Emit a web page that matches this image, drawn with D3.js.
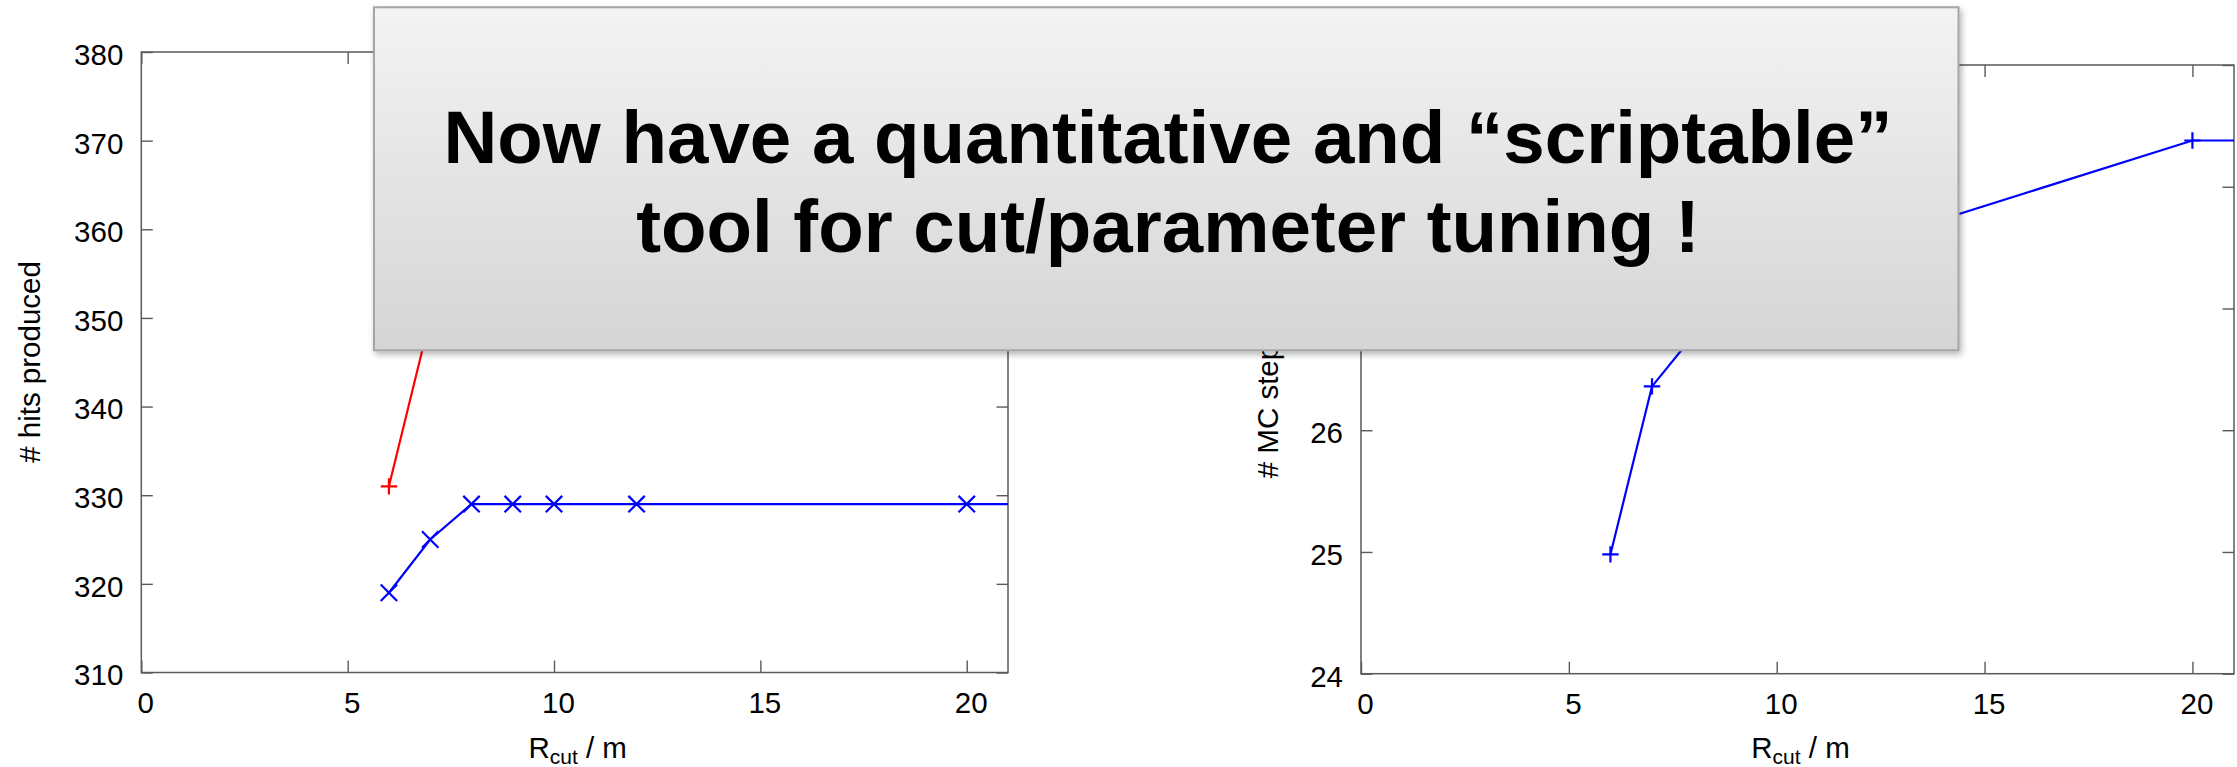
<!DOCTYPE html>
<html>
<head>
<meta charset="utf-8">
<script src="https://cdn.jsdelivr.net/npm/d3@7/dist/d3.min.js"></script>
<style>
  html, body { margin: 0; padding: 0; background: #ffffff; }
  svg { display: block; }
  text { font-family: "Liberation Sans", Arial, Helvetica, sans-serif; fill: #000; }
</style>
</head>
<body>
<svg id="chart" width="2237" height="767"></svg>
<script>
// R_cut values (m) at which the scan was run
const rcut = [6, 7, 8, 9, 10, 12, 20, 25];
// number of hits produced, two configurations
const hitsRed  = [331, 350, 349, 348, 348, 347.5, 347.2, 347.2];
const hitsBlue = [319, 325, 329, 329, 329, 329, 329, 329];
// number of MC steps
const mcSteps  = [24.98, 26.36, 26.78, 27.05, 27.25, 27.52, 28.38, 28.38];

// tick values
const xTicks      = [0, 5, 10, 15, 20];
const hitsTicks   = [310, 320, 330, 340, 350, 360, 370, 380];
const mcTicks     = [24, 25, 26, 27, 28, 29];

const headline = ["Now have a quantitative and \u201Cscriptable\u201D", "tool for cut/parameter tuning !"];

// callout rectangle drawn over the plots
const callout = { x: 374, y: 7.3, w: 1584.5, h: 343 };

const svg = d3.select("#chart");
const defs = svg.append("defs");

const FONT = 29.5;
const FRAME = "#5a5a5a";

// tick labels that sit completely under the callout are not drawn
function underCallout(el) {
  const b = el.getBBox();
  const m = el.getCTM();
  const x0 = b.x * m.a + m.e, y0 = b.y * m.d + m.f;
  const x1 = x0 + b.width * m.a, y1 = y0 + b.height * m.d;
  return x0 >= callout.x && x1 <= callout.x + callout.w &&
         y0 >= callout.y && y1 <= callout.y + callout.h;
}

function panel(opts) {
  const { id, left, right, top, bottom, yDomain, yTicks, ylabel, ylabelPos } = opts;
  const x = d3.scaleLinear().domain([0, 21]).range([left, right]);
  const y = d3.scaleLinear().domain(yDomain).range([bottom, top]);

  defs.append("clipPath").attr("id", "clip-" + id)
    .append("rect").attr("x", left).attr("y", top)
    .attr("width", right - left).attr("height", bottom - top);

  const g = svg.append("g");

  // bottom axis with labels
  const gx = g.append("g").attr("transform", `translate(0,${bottom})`)
    .call(d3.axisBottom(x).tickValues(xTicks).tickSizeInner(-12).tickSizeOuter(0).tickFormat(d3.format("d")));
  gx.select(".domain").remove();
  gx.selectAll("line").attr("stroke", FRAME).attr("stroke-width", 1.4);
  gx.selectAll("text").attr("y", 40.8).attr("dy", null).attr("dx", 4)
    .style("font-size", FONT + "px").style("font-family", "Liberation Sans, Arial, sans-serif");

  // top mirrored ticks
  const gt = g.append("g").attr("transform", `translate(0,${top})`)
    .call(d3.axisTop(x).tickValues(xTicks).tickSizeInner(-12).tickSizeOuter(0).tickFormat(""));
  gt.select(".domain").remove();
  gt.selectAll("line").attr("stroke", FRAME).attr("stroke-width", 1.4);

  // left axis with labels
  const gy = g.append("g").attr("transform", `translate(${left},0)`)
    .call(d3.axisLeft(y).tickValues(yTicks).tickSizeInner(-11.5).tickSizeOuter(0).tickFormat(d3.format("d")));
  gy.select(".domain").remove();
  gy.selectAll("line").attr("stroke", FRAME).attr("stroke-width", 1.4);
  gy.selectAll("text").attr("x", -18).attr("dy", null).attr("y", 12.4)
    .style("font-size", FONT + "px").style("font-family", "Liberation Sans, Arial, sans-serif");
  gy.selectAll("text").filter(function () { return underCallout(this); }).remove();

  // right mirrored ticks
  const gr = g.append("g").attr("transform", `translate(${right},0)`)
    .call(d3.axisRight(y).tickValues(yTicks).tickSizeInner(-11.5).tickSizeOuter(0).tickFormat(""));
  gr.select(".domain").remove();
  gr.selectAll("line").attr("stroke", FRAME).attr("stroke-width", 1.4);

  // frame
  g.append("rect").attr("x", left).attr("y", top)
    .attr("width", right - left).attr("height", bottom - top)
    .attr("fill", "none").attr("stroke", FRAME).attr("stroke-width", 1.5);

  // axis labels
  const xl = g.append("text").attr("x", (left + right) / 2 + 3).attr("y", 758.3)
    .attr("text-anchor", "middle").style("font-size", FONT + "px");
  xl.append("tspan").text("R");
  xl.append("tspan").attr("dy", 6).style("font-size", "21px").text("cut");
  xl.append("tspan").attr("dy", -6).text(" / m");

  g.append("text")
    .attr("transform", `translate(${ylabelPos[0]},${ylabelPos[1]}) rotate(-90)`)
    .attr("text-anchor", ylabelPos[2])
    .style("font-size", FONT + "px")
    .text(ylabel);

  const plot = g.append("g").attr("clip-path", `url(#clip-${id})`);
  return { x, y, plot };
}

function series(p, xs, ys, color, marker) {
  const pts = xs.map((d, i) => [d, ys[i]]);
  const line = d3.line().x(d => p.x(d[0])).y(d => p.y(d[1]));
  p.plot.append("path").datum(pts)
    .attr("d", line).attr("fill", "none")
    .attr("stroke", color).attr("stroke-width", 2.2);
  const s = 8.2;
  const mk = p.plot.selectAll(null).data(pts).join("g")
    .attr("transform", d => `translate(${p.x(d[0])},${p.y(d[1])})`);
  if (marker === "plus") {
    mk.append("path").attr("d", `M${-s},0H${s}M0,${-s}V${s}`)
      .attr("stroke", color).attr("stroke-width", 2.2).attr("fill", "none");
  } else {
    mk.append("path").attr("d", `M${-s},${-s}L${s},${s}M${-s},${s}L${s},${-s}`)
      .attr("stroke", color).attr("stroke-width", 2.2).attr("fill", "none");
  }
}

// left panel: hits produced
const pHits = panel({
  id: "hits", left: 141.3, right: 1008, top: 52, bottom: 672.5,
  yDomain: [310, 380], yTicks: hitsTicks, ylabel: "# hits produced",
  ylabelPos: [40, 362, "middle"]
});
series(pHits, rcut, hitsRed, "#ff0000", "plus");
series(pHits, rcut, hitsBlue, "#0000ff", "cross");

// right panel: MC steps
const pMC = panel({
  id: "mc", left: 1361, right: 2234, top: 65, bottom: 673.7,
  yDomain: [24, 29], yTicks: mcTicks, ylabel: "# MC steps (k)",
  ylabelPos: [1278, 478.3, "start"]
});
series(pMC, rcut, mcSteps, "#0000ff", "plus");

// callout box
const grad = defs.append("linearGradient").attr("id", "boxfill")
  .attr("x1", 0).attr("y1", 0).attr("x2", 0).attr("y2", 1);
grad.append("stop").attr("offset", "0%").attr("stop-color", "#f3f3f3");
grad.append("stop").attr("offset", "100%").attr("stop-color", "#d5d5d5");

const shadow = defs.append("filter").attr("id", "shadow")
  .attr("x", "-5%").attr("y", "-10%").attr("width", "110%").attr("height", "125%");
shadow.append("feDropShadow").attr("dx", 2).attr("dy", 3)
  .attr("stdDeviation", 3).attr("flood-color", "#000").attr("flood-opacity", 0.3);

const box = svg.append("g");
box.append("rect").attr("x", callout.x).attr("y", callout.y)
  .attr("width", callout.w).attr("height", callout.h)
  .attr("fill", "url(#boxfill)").attr("stroke", "#a5a5a5").attr("stroke-width", 2)
  .attr("filter", "url(#shadow)");

box.selectAll("text.head").data(headline).join("text")
  .attr("class", "head")
  .attr("x", 1168).attr("y", (d, i) => 163.3 + i * 89)
  .attr("text-anchor", "middle")
  .style("font-size", "74.5px").style("font-weight", "bold")
  .text(d => d);
</script>
</body>
</html>
